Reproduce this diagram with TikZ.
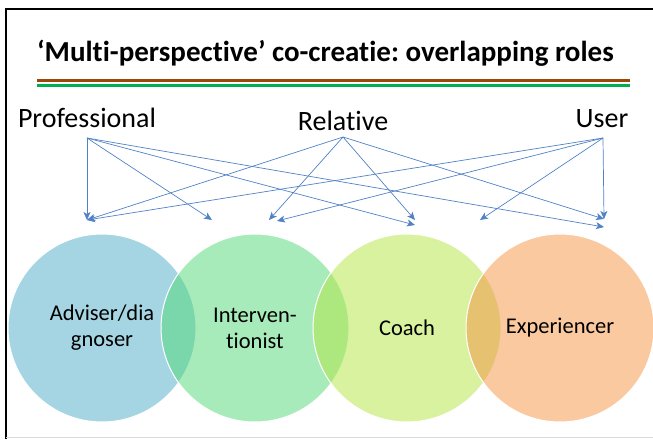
\documentclass[tikz,border=0pt]{standalone}
\usepackage{fontspec}
\setmainfont{Carlito}[Ligatures=NoCommon]
\usetikzlibrary{arrows.meta}
\frenchspacing

\begin{document}
\begin{tikzpicture}[x=1pt,y=-1pt,
		role/.style={circle,draw=white,line width=1pt,minimum size=188pt,inner sep=0pt,fill opacity=0.5,text opacity=1,align=center,font=\fontsize{22.5}{26}\selectfont},
		who/.style={anchor=base,font=\fontsize{28}{32}\selectfont},
		link/.style={draw=linkblue,line width=0.7pt,-{Stealth[length=8pt,width=7pt,inset=2pt]}}]
					\definecolor{linkblue}{HTML}{5182C6}
					\definecolor{roleblue}{HTML}{4BACC6}
					\definecolor{rolegreen}{HTML}{51D775}
					\definecolor{rolelime}{HTML}{B1E541}
					\definecolor{roleorange}{HTML}{F59341}
					\definecolor{barbrown}{HTML}{984807}
					\definecolor{bargreen}{HTML}{00B050}
					\useasboundingbox (0,0) rectangle (653,439);
					
					% frame
					\draw[line width=2.5pt] (6,439) -- (6,9) -- (653,9);
					\draw[line width=1.5pt,black!15] (6,437.5) -- (653,437.5);
					
					% title
					\node[anchor=base west,inner sep=0pt,font=\fontsize{29}{34}\selectfont\bfseries] (title) at (37,61) {‘Multi-perspective’ co-creatie: overlapping roles};
					\draw[line width=3pt,barbrown] (37,80) -- (630,80);
					\draw[line width=3pt,bargreen] (37,85) -- (630,85);
					
					% circles
					\node[role,fill=roleblue] (adv) at (102,328) {Adviser/dia\\gnoser};
					\node[role,fill=rolegreen] (int) at (255,328) {Interven-\\tionist};
					\node[role,fill=rolelime] (coach) at (407,328) {Coach};
					\node[role,fill=roleorange] (exp) at (560,328) {Experiencer};
					
					% labels
					\node[who] (prof) at (87,127) {Professional};
					\node[who] (rel) at (343,130) {Relative};
					\node[who] (user) at (602,127) {User};
					
					\coordinate (p0) at (87,138);
					\coordinate (r0) at (343,137);
					\coordinate (u0) at (603,138);
					\coordinate (t1) at (87,220);
					\coordinate (t2) at (212,220);
					\coordinate (t3) at (269,220);
					\coordinate (t4) at (277,221);
					\coordinate (t5) at (415,220);
					\coordinate (t6) at (415,225);
					\coordinate (t7) at (480,220);
					\coordinate (t8) at (604,219);
					\coordinate (t9) at (604,227);
					
					% arrows
					\foreach \t in {t1,t2,t6,t9} \draw[link] (p0) -- (\t);
					\foreach \t in {t1,t3,t5,t8} \draw[link] (r0) -- (\t);
					\foreach \t in {t1,t4,t7,t8} \draw[link] (u0) -- (\t);
				\end{tikzpicture}
\end{document}
